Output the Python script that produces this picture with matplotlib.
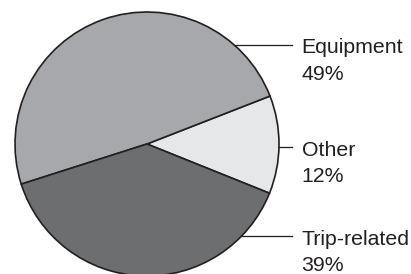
import math
import matplotlib
matplotlib.use("Agg")
import matplotlib.pyplot as plt

# Chart data
categories = ["Other", "Equipment", "Trip-related"]
shares = [12, 49, 39]
colors = ["#e6e7e8", "#a7a8ab", "#6d6e70"]

# Layout (pixel units, y measured from the bottom)
WIDTH, HEIGHT = 411, 274
CENTER = (147, 130)
RADIUS = 132
LABEL_X = 292
LABEL_Y = {"Equipment": 274 - 44.5, "Other": 274 - 146.7, "Trip-related": 274 - 236.2}

fig = plt.figure(figsize=(WIDTH / 100, HEIGHT / 100), dpi=100)
ax = fig.add_axes([0, 0, 1, 1])

start = -shares[0] / 100 * 360 / 2 - 0.3
ax.pie(shares, colors=colors, startangle=start, counterclock=True,
       center=CENTER, radius=RADIUS, frame=True,
       wedgeprops={"edgecolor": "#231f20", "linewidth": 1.2})
ax.set_xlim(0, WIDTH)
ax.set_ylim(0, HEIGHT)
ax.set_aspect("equal")
ax.axis("off")

for name, share in zip(categories, shares):
    y = LABEL_Y[name]
    dy = y - CENTER[1]
    x_edge = CENTER[0] + math.sqrt(max(RADIUS ** 2 - dy ** 2, 0))
    ax.plot([x_edge, LABEL_X], [y, y], color="#231f20", linewidth=0.9)
    ax.text(LABEL_X + 9.5, y - 8.8, name, fontsize=15.3, family="Liberation Sans",
            color="#231f20", va="baseline", ha="left")
    ax.text(LABEL_X + 9.5, y - 35.0, f"{share}%", fontsize=15.3, family="Liberation Sans",
            color="#231f20", va="baseline", ha="left")

fig.savefig("out.png", dpi=100)
